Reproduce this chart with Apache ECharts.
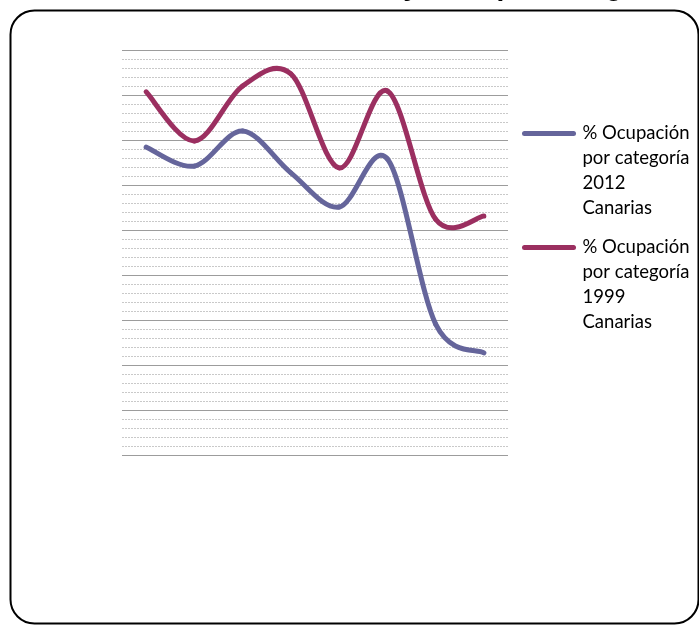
<!DOCTYPE html>
<html>
<head>
<meta charset="utf-8">
<script src="https://cdn.jsdelivr.net/npm/echarts@6/dist/echarts.min.js"></script>
<style>
  html, body { margin: 0; padding: 0; background: #ffffff; }
  #chart { width: 699px; height: 626px; }
</style>
</head>
<body>
<div id="chart"></div>
<script>
// Hotel categories (x axis, labels not shown)
const categorias = ['Hotel 1*', 'Hotel 2*', 'Hotel 3*', 'Hotel 4*', 'Hotel 5*', 'Apart. 1 llave', 'Apart. 2 llaves', 'Apart. 3 llaves'];

// Occupancy (%) per category
const ocupacion2012 = [68.4, 64.2, 72.0, 62.7, 55.1, 65.8, 29.1, 22.7];
const ocupacion1999 = [80.7, 69.8, 82.0, 84.7, 63.8, 80.9, 52.4, 53.1];

// Series names and their wrapped legend text
const nombreSerie2012 = '% Ocupación por categoría 2012 Canarias';
const nombreSerie1999 = '% Ocupación por categoría 1999 Canarias';
const leyenda2012 = ['% Ocupación', 'por categoría', '2012', 'Canarias'];
const leyenda1999 = ['% Ocupación', 'por categoría', '1999', 'Canarias'];

const titulo = 'Evolución en Canarias 1999 y 2012 por categoría';

const color2012 = '#65659b';
const color1999 = '#9b2f60';

const chart = echarts.init(document.getElementById('chart'), null, { renderer: 'canvas' });

// Smoothed line drawn as Catmull-Rom Bezier segments between
// consecutive points, positioned through the axis scales.
function curvaSuave(name, values, color, z) {
  return {
    name: name,
    type: 'custom',
    coordinateSystem: 'cartesian2d',
    data: values.map((v, i) => [i, v]),
    encode: { x: 0, y: 1 },
    itemStyle: { color: color },
    z: z,
    renderItem: function (params, api) {
      const i = params.dataIndex;
      const n = values.length;
      if (i >= n - 1) return null;
      const pt = (k) => api.coord([Math.max(0, Math.min(n - 1, k)), values[Math.max(0, Math.min(n - 1, k))]]);
      const p0 = pt(i - 1), p1 = pt(i), p2 = pt(i + 1), p3 = pt(i + 2);
      return {
        type: 'bezierCurve',
        shape: {
          x1: p1[0], y1: p1[1],
          x2: p2[0], y2: p2[1],
          cpx1: p1[0] + (p2[0] - p0[0]) / 6,
          cpy1: p1[1] + (p2[1] - p0[1]) / 6,
          cpx2: p2[0] - (p3[0] - p1[0]) / 6,
          cpy2: p2[1] - (p3[1] - p1[1]) / 6
        },
        style: { fill: null, stroke: color, lineWidth: 5, lineCap: 'round' },
        silent: true
      };
    }
  };
}

// Legend entry whose icon sits beside the first text line:
// three blank lines above keep the first line at the block's centre.
function legendBlock(name, lines, color, top) {
  return {
    data: [{ name: name, icon: 'path://M2.5,0 H51.5 A2.5,2.5 0 0 1 51.5,5 H2.5 A2.5,2.5 0 0 1 2.5,0 Z', itemStyle: { color: color } }],
    orient: 'vertical',
    left: 522,
    top: top,
    padding: 0,
    itemWidth: 57,
    itemHeight: 5,
    selectedMode: false,
    formatter: () => '\n\n\n' + lines.join('\n'),
    textStyle: {
      fontFamily: 'Lato',
      fontSize: 18.5,
      lineHeight: 24.7,
      color: '#000000'
    }
  };
}

const option = {
  animation: false,
  backgroundColor: '#ffffff',
  title: {
    text: titulo,
    left: 'center',
    top: -27,
    padding: [0, 0, 0, 42],
    textStyle: {
      fontFamily: 'Liberation Sans',
      fontWeight: 'bold',
      fontSize: 28,
      color: '#000000'
    }
  },
  graphic: [{
    type: 'rect',
    shape: { x: 10.5, y: 10.5, width: 688, height: 613, r: 24 },
    style: { fill: 'none', stroke: '#000000', lineWidth: 2 },
    silent: true,
    z: 100
  }],
  legend: [
    legendBlock(nombreSerie2012, leyenda2012, color2012, 47),
    legendBlock(nombreSerie1999, leyenda1999, color1999, 161)
  ],
  grid: { left: 122, top: 50, width: 386, height: 405, containLabel: false },
  xAxis: {
    type: 'category',
    data: categorias,
    boundaryGap: true,
    axisLine: { show: false },
    axisTick: { show: false },
    axisLabel: { show: false },
    splitLine: { show: false }
  },
  yAxis: {
    type: 'value',
    min: 0,
    max: 90,
    interval: 10,
    axisLine: { show: false },
    axisTick: { show: false },
    axisLabel: { show: false },
    splitLine: { show: true, lineStyle: { color: '#9c9c9c', width: 1 } },
    minorTick: { show: false, splitNumber: 5 },
    minorSplitLine: { show: true, lineStyle: { color: '#c9c9c9', width: 1, type: [2, 1] } }
  },
  series: [
    curvaSuave(nombreSerie2012, ocupacion2012, color2012, 3),
    curvaSuave(nombreSerie1999, ocupacion1999, color1999, 4)
  ]
};

chart.setOption(option);
</script>
</body>
</html>
